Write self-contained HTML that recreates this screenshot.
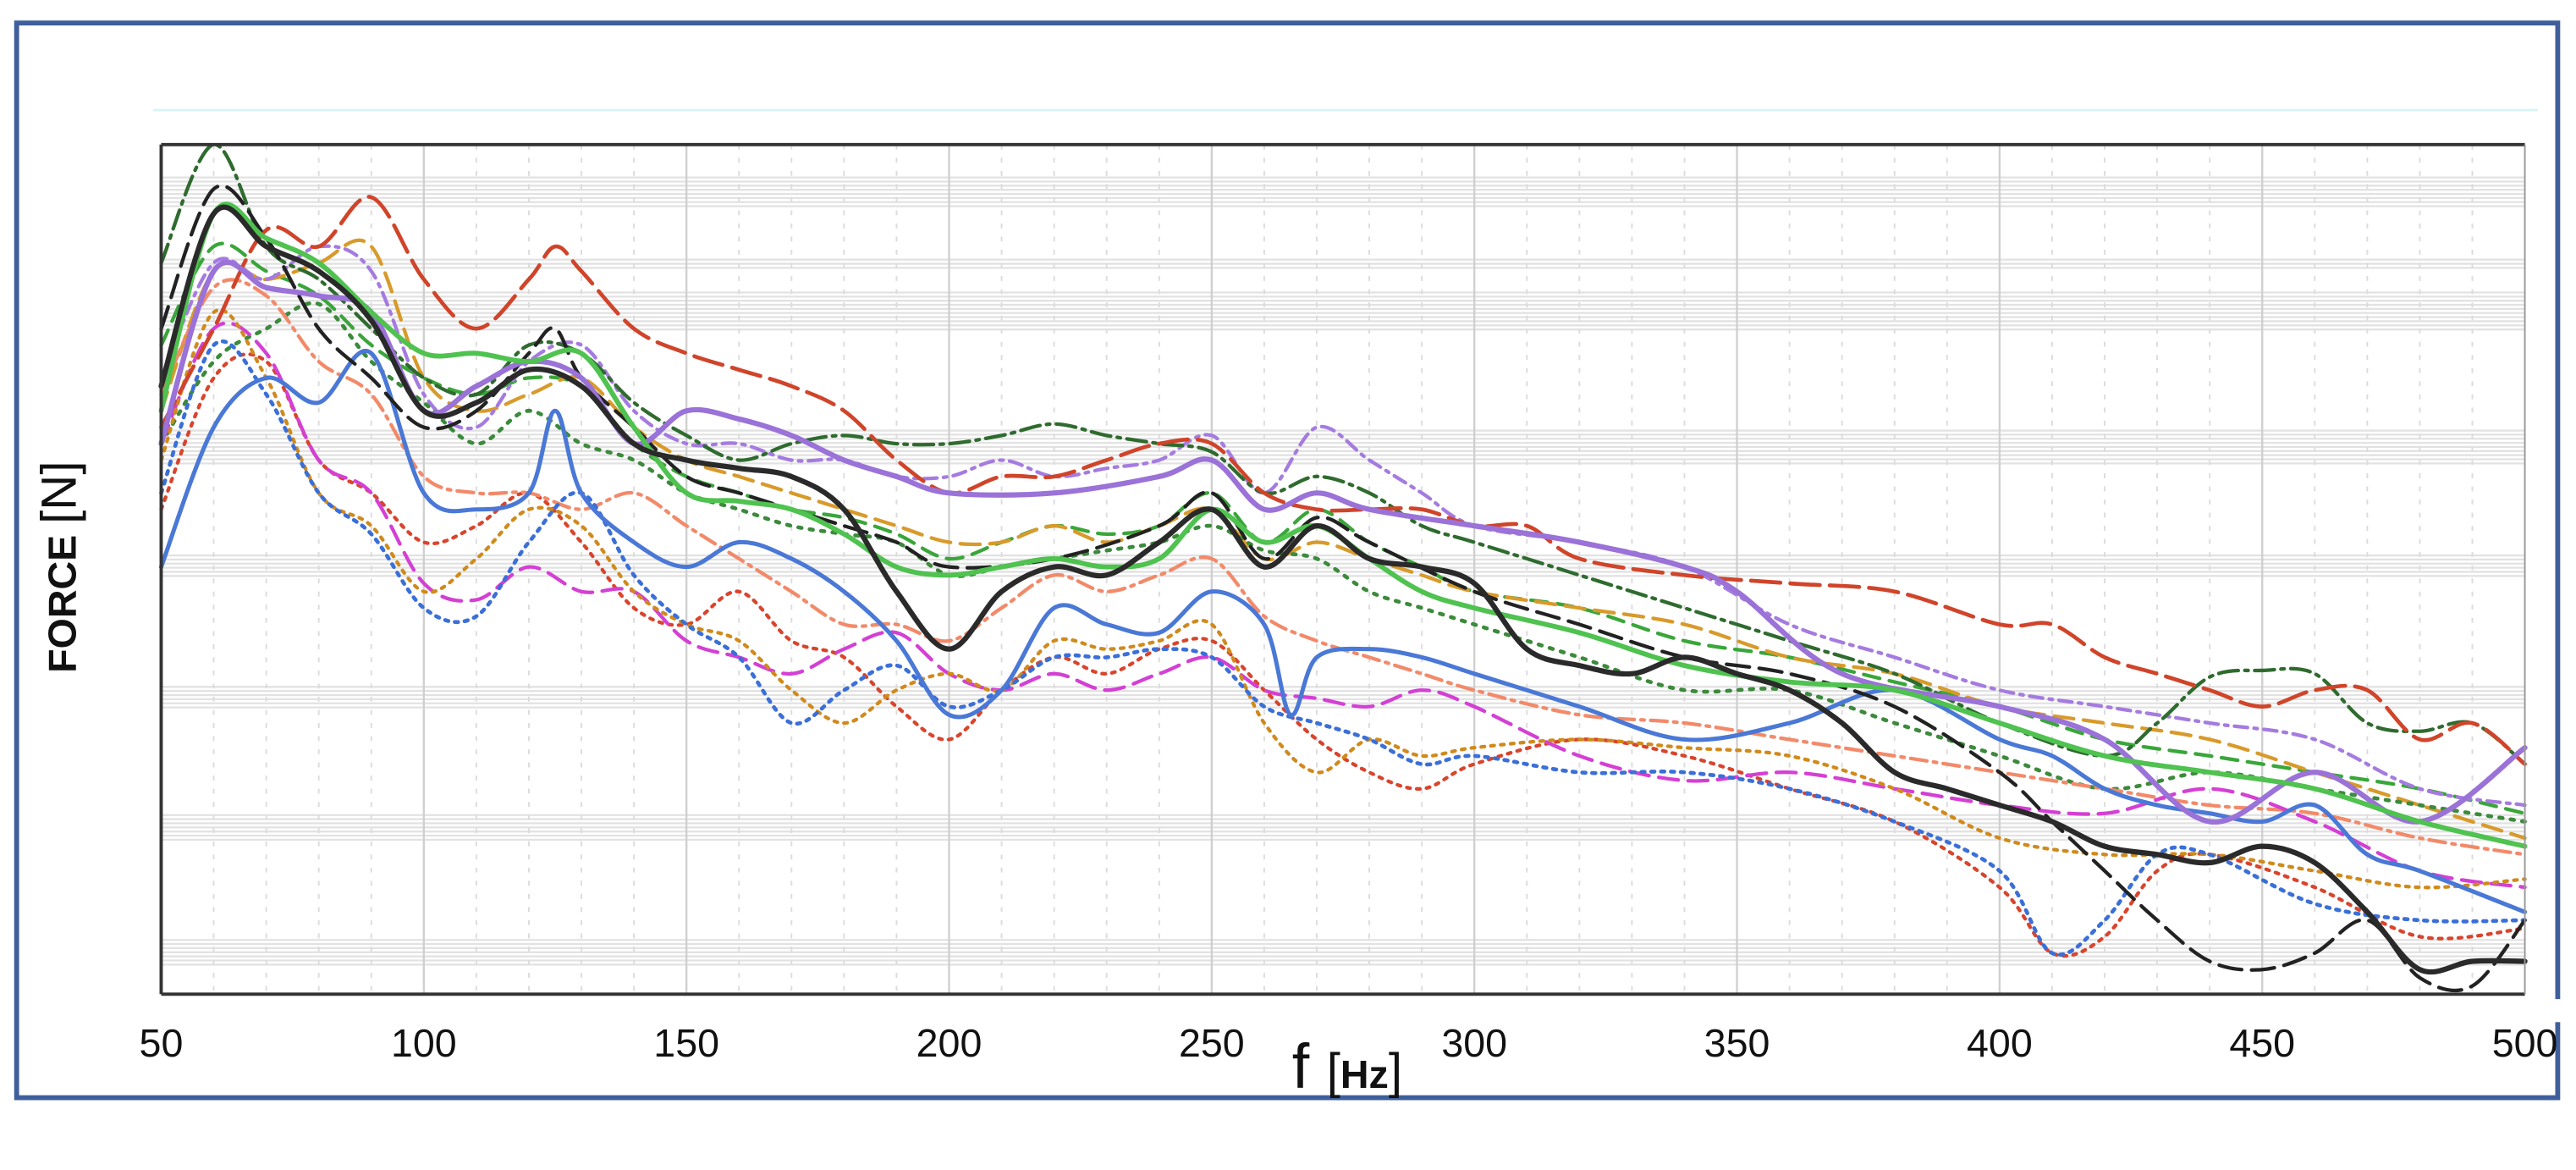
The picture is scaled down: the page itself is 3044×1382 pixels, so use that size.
<!DOCTYPE html>
<html><head><meta charset="utf-8"><style>
html,body{margin:0;padding:0;background:#fff;}
svg{display:block;}
</style></head><body>
<svg id="chart" width="3044" height="1382" viewBox="0 0 1568 712" xmlns="http://www.w3.org/2000/svg">
<rect x="0" y="0" width="1568" height="712" fill="#fff"/>
<rect x="10" y="14" width="1547" height="654" fill="none" stroke="#3f5f9c" stroke-width="3"/>
<rect x="1550" y="608" width="12" height="14" fill="#fff"/>
<line x1="93" y1="67" x2="1545" y2="67" stroke="#d8f4f4" stroke-width="1.5"/>
<g id="grid"></g>
<g id="series"></g>
<g id="frame">
<line x1="98" y1="88" x2="1537" y2="88" stroke="#333" stroke-width="2"/>
<line x1="98" y1="88" x2="98" y2="605" stroke="#333" stroke-width="2"/>
<line x1="98" y1="605" x2="1537" y2="605" stroke="#333" stroke-width="2"/>
<line x1="1537" y1="88" x2="1537" y2="605" stroke="#999" stroke-width="1"/>
</g>
<g id="xticks" font-family="Liberation Sans, sans-serif" font-size="24" fill="#111" text-anchor="middle"></g>
<text x="820" y="662" text-anchor="middle" font-family="Liberation Sans, sans-serif" fill="#111"><tspan font-size="38">f </tspan><tspan font-size="30">[</tspan><tspan font-size="24" font-weight="bold">Hz</tspan><tspan font-size="30">]</tspan></text>
<text transform="translate(46,345) rotate(-90)" text-anchor="middle" font-family="Liberation Sans, sans-serif" fill="#111"><tspan font-size="24" font-weight="bold">FORCE </tspan><tspan font-size="30">[N]</tspan></text>
</svg>
<script>
const xTicks=[50,100,150,200,250,300,350,400,450,500];
const F36=[50,60,70,80,90,100,110,120,130,140,150,160,170,180,190,200,210,220,230,240,250,260,270,280,290,300,320,340,360,380,400,420,440,460,480,500];
const F38=[50,60,70,80,90,100,110,120,130,140,150,160,170,180,190,200,210,220,230,240,250,260,270,280,290,300,320,340,360,380,400,410,420,430,440,460,480,500];
const s1F=[50,60,70,80,90,100,110,120,130,140,150,160,170,180,190,200,210,220,230,240,250,260,270,280,290,300,310,320,330,340,350,360,370,380,390,400,410,420,430,440,450,460,470,480,490,500];
const s1V=[370,475,455,440,410,355,360,380,370,335,325,320,315,295,245,210,245,260,255,275,295,260,285,265,260,250,210,200,195,205,195,185,165,135,125,115,105,90,85,80,90,80,50,15,20,20];
const s2F=[50,60,70,80,90,100,110,120,125,130,140,150,160,170,180,190,200,210,220,230,240,250,260,270,280,290,300,310,320,340,360,380,400,410,420,430,440,450,460,470,480,490,500];
const s2V=[345,405,465,455,485,435,405,435,455,440,405,390,380,370,355,325,305,315,315,325,335,335,305,295,295,295,285,285,265,255,250,245,225,225,205,195,185,175,185,185,155,165,140];
const s3F=[50,60,70,80,90,100,110,120,130,140,150,160,170,180,190,200,210,220,230,240,250,260,270,280,290,300,320,340,360,380,400,420,430,440,450,460,470,480,490,500];
const s3V=[445,517,455,435,405,375,365,395,390,360,340,325,335,340,335,335,340,347,340,335,330,305,315,305,285,275,255,235,215,195,165,145,165,193,197,195,165,160,165,140];
const s4F=[50,60,70,80,90,100,110,120,130,140,150,160,170,180,190,200,220,240,250,260,270,280,300,320,340,350,370,400,420,440,460,480,500];
const s4V=[335,440,430,425,415,355,370,385,375,335,355,350,340,325,315,305,305,315,325,295,305,295,285,275,260,245,195,175,155,105,135,105,150];
const s5V=[355,475,460,445,415,390,390,385,390,345,305,300,295,280,260,255,260,265,260,265,295,275,285,265,245,235,220,200,190,185,165,145,135,125,105,90];
const s6F=[50,60,70,80,90,100,110,120,125,130,140,150,160,170,180,190,200,210,220,230,240,250,260,265,270,280,290,300,320,340,360,380,400,410,420,430,440,450,460,470,480,500];
const s6V=[260,345,375,360,390,305,295,305,355,305,275,260,275,265,245,215,170,185,235,225,220,245,225,170,205,210,205,195,175,155,165,185,155,145,125,115,110,105,115,85,75,50];
const s7V=[305,395,365,305,280,235,230,275,305,255,225,205,165,185,200,175,185,205,205,210,205,175,165,155,140,145,135,135,125,105,75,25,45,85,85,55,45,45];
const s8V=[325,415,375,305,285,245,265,295,285,245,225,215,185,165,185,195,185,215,210,215,225,165,135,155,145,150,155,150,145,125,95,85,85,75,65,70];
const s9V=[335,405,390,325,305,250,240,260,245,245,215,205,195,210,220,195,185,195,185,195,205,185,180,175,185,175,145,130,135,125,115,110,125,105,75,65];
const s10V=[365,430,425,385,365,315,305,305,295,305,285,265,245,225,225,215,235,255,245,255,265,230,215,205,195,185,170,165,155,145,135,125,115,110,95,85];
const s11F=[50,60,70,80,90,100,110,120,125,130,140,150,160,170,180,190,200,220,240,250,260,270,280,300,320,340,360,380,400,410,420,430,440,450,460,470,480,490,500];
const s11V=[405,490,460,405,375,345,355,390,405,375,345,315,305,295,285,275,260,265,285,305,265,290,275,245,225,205,195,175,135,105,75,45,20,15,25,45,10,5,45];
const s12V=[335,385,405,420,385,360,335,355,335,325,305,295,285,280,275,255,260,265,270,275,285,270,265,245,235,225,205,185,185,165,145,125,135,125,115,105];
const s13V=[375,445,435,455,440,365,345,385,395,355,335,335,325,325,315,315,325,315,320,325,340,305,345,325,305,285,275,260,225,205,185,175,165,155,125,115];
const s14V=[295,375,385,325,305,275,285,305,275,235,225,245,215,205,175,155,185,205,195,210,215,185,155,135,125,140,155,145,125,105,65,25,35,75,85,65,35,40];
const s15V=[355,440,435,445,455,375,355,365,375,345,325,315,305,295,285,275,275,285,275,285,295,265,275,265,255,245,235,225,205,195,175,165,155,135,115,95];
const s16V=[395,455,440,425,395,375,365,375,370,335,315,305,295,290,280,265,275,285,280,285,305,275,295,275,260,245,235,215,205,190,175,155,145,135,125,110];

const X0=98,X1=1537,Y0=88,Y1=605;
function xs(f){return X0+(f-50)/450*(X1-X0);}
function ys(v){return Y1-v*(Y1-Y0)/517;}
const NS="http://www.w3.org/2000/svg";
function mk(t,a,p){const e=document.createElementNS(NS,t);for(const k in a)e.setAttribute(k,a[k]);p.appendChild(e);return e;}

const grid=document.getElementById('grid');
const bands=[[108,126],[158,164],[178,202],[262,282],[338,352],[418,432],[496,512],[572,588]];
bands.forEach(b=>{for(let y=b[0];y<=b[1];y+=2.5){const l=mk('line',{x1:X0,x2:X1,y1:y,y2:y,stroke:'#e2e2e2','stroke-width':1.2},grid);

}});
for(let f=60;f<500;f+=10){const solid=f%50===0;const l=mk('line',{x1:xs(f),x2:xs(f),y1:Y0,y2:Y1,stroke:solid?'#cfcfcf':'#dcdcdc','stroke-width':solid?1.2:1,'stroke-dasharray':solid?'none':'3 5'},grid);

}

const xt=document.getElementById('xticks');
xTicks.forEach(t=>{const e=mk('text',{x:xs(t),y:643},xt);e.textContent=t;

});

function path(F,V){const p=F.map((f,i)=>[xs(f),ys(V[i])]);let d='M'+p[0][0].toFixed(1)+','+p[0][1].toFixed(1);
for(let i=0;i<p.length-1;i++){const a=p[i-1]||p[i],b=p[i],c=p[i+1],e=p[i+2]||c;
d+=' C'+(b[0]+(c[0]-a[0])/6).toFixed(1)+','+(b[1]+(c[1]-a[1])/6).toFixed(1)+' '+(c[0]-(e[0]-b[0])/6).toFixed(1)+','+(c[1]-(e[1]-b[1])/6).toFixed(1)+' '+c[0].toFixed(1)+','+c[1].toFixed(1);}return d;}
const sg=document.getElementById('series');
const defs=[
[s16V,F36,'#3aa63a','10 6',2.2,'series-green-dashed'],
[s15V,F36,'#d89a2a','12 6',2.2,'series-orange-dashed'],
[s14V,F38,'#d9442c','2 4',2.2,'series-red-dotted'],
[s13V,F36,'#a57be0','2 4 8 4',2.2,'series-lavender-dashdot'],
[s12V,F36,'#3c8a3c','2 5',2.4,'series-darkgreen-dotted'],
[s10V,F36,'#f28a6a','10 4 2 4',2.2,'series-salmon-dashdot'],
[s9V,F36,'#d43fd4','12 6',2.2,'series-magenta-dashed'],
[s8V,F36,'#d08a1c','2 4',2.2,'series-orange-dotted'],
[s7V,F38,'#3b6fd8','2 4',2.4,'series-blue-dotted'],
[s6V,s6F,'#4a78d6','none',2.6,'series-blue-solid'],
[s3V,s3F,'#2f6b2f','12 4 2 4',2.2,'series-darkgreen-dashdot'],
[s2V,s2F,'#d0442a','18 6',2.4,'series-red-dashed'],
[s11V,s11F,'#222','14 6',2.2,'series-black-dashed'],
[s4V,s4F,'#9a72d8','none',3.2,'series-purple-solid'],
[s5V,F36,'#4fc24f','none',3,'series-green-solid'],
[s1V,s1F,'#2a2a2a','none',3.2,'series-black-solid']
];
defs.forEach(s=>{const p=mk('path',{d:path(s[1],s[0]),fill:'none',stroke:s[2],'stroke-width':s[4],'stroke-dasharray':s[3],'stroke-linejoin':'round','stroke-linecap':'round'},sg);

});
</script>
</body></html>
